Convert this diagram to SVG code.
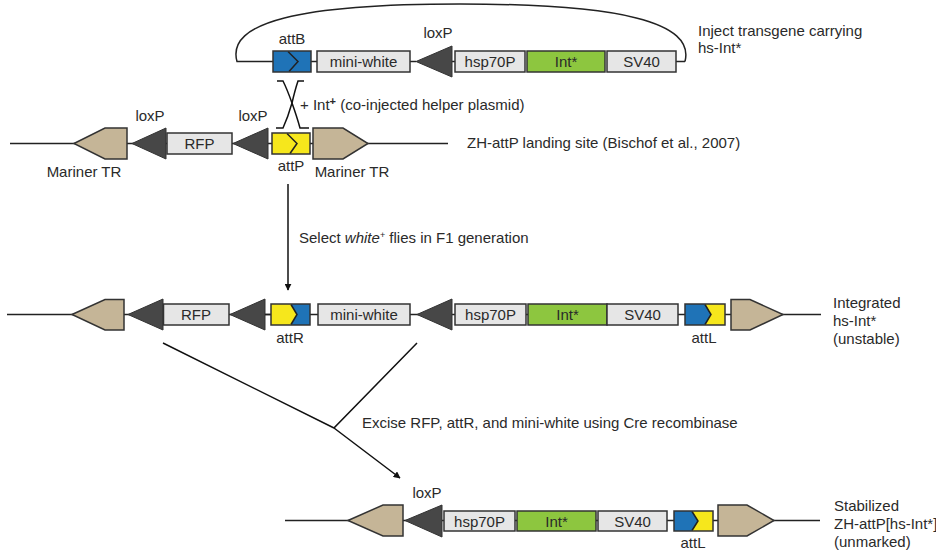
<svg xmlns="http://www.w3.org/2000/svg" width="936" height="554" viewBox="0 0 936 554">
<defs>
<style>
text{font-family:"Liberation Sans",Arial,sans-serif;font-size:15px;fill:#2a2a2a}
.c{text-anchor:middle}
.box{fill:#e6e6e6;stroke:#333;stroke-width:1.5}
.int{fill:#8dc63f;stroke:#333;stroke-width:1.5}
.lox{fill:#474747;stroke:#333;stroke-width:1}
.tr{fill:#c5b597;stroke:#333;stroke-width:1.5}
.blue{fill:#1f73b7}
.yel{fill:#f6e71c}
.frame{fill:none;stroke:#333;stroke-width:1.5}
.chev{fill:none;stroke:#222;stroke-width:1.5}
.dna{fill:none;stroke:#222;stroke-width:1.5}
.arr{fill:none;stroke:#111;stroke-width:1.5}
</style>
<marker id="ah" viewBox="0 0 10 10" refX="9" refY="5" markerWidth="7" markerHeight="7" orient="auto" markerUnits="userSpaceOnUse">
<path d="M0,0 L10,5 L0,10 Z" fill="#111"/>
</marker>
</defs>
<rect width="936" height="554" fill="#fff"/>

<g id="connectors">
<path class="dna" d="M685,61.5 C695,22 620,4 460,4 C300,4 226,22 237,61.5 H273"/>
<line class="dna" x1="311" y1="61.5" x2="317" y2="61.5"/>
<line class="dna" x1="410" y1="61.5" x2="416" y2="61.5"/>
<line class="dna" x1="452" y1="61.5" x2="455" y2="61.5"/>
<line class="dna" x1="676" y1="61.5" x2="685" y2="61.5"/>
<path class="arr" d="M277,81 H283 Q287,89 292,103 Q297,117 300,128 H309"/>
<path class="arr" d="M304,81 H298 Q295,90 292,103 Q288,117 283,128 H276"/>
<line class="dna" x1="10" y1="143.5" x2="448" y2="143.5"/>
<line class="arr" x1="288" y1="184" x2="288" y2="290" marker-end="url(#ah)"/>
<line class="dna" x1="7" y1="314.5" x2="821" y2="314.5"/>
<path class="arr" d="M163,343 L334,428 M417,343 L334,428 L400,478" marker-end="url(#ah)"/>
<line class="dna" x1="285" y1="520.5" x2="820" y2="520.5"/>
</g>

<g id="plasmid">
<g id="attB">
<rect class="blue" x="273" y="51" width="38" height="21"/>
<polyline class="chev" points="288,51.5 298,61.5 289,71.5"/>
<rect class="frame" x="273" y="51" width="38" height="21"/>
<text class="c" x="292" y="44">attB</text>
</g>
<g id="mini-white-1"><rect class="box" x="317" y="51" width="93" height="21"/><text class="c" x="363.5" y="67">mini-white</text></g>
<g id="loxP-1"><polygon class="lox" points="416,61.5 452,46 452,77"/><text class="c" x="438" y="38">loxP</text></g>
<g id="hsp70P-1"><rect class="box" x="455" y="51" width="70" height="21"/><text class="c" x="490" y="67">hsp70P</text></g>
<g id="Int-1"><rect class="int" x="527" y="51" width="78" height="21"/><text class="c" x="566" y="67">Int*</text></g>
<g id="SV40-1"><rect class="box" x="607" y="51" width="69" height="21"/><text class="c" x="641.5" y="67">SV40</text></g>
<g id="inject-label"><text x="698" y="36">Inject transgene carrying</text><text x="698" y="53">hs-Int*</text></g>
</g>

<g id="helper-label"><text x="300" y="110">+ Int<tspan font-size="11" font-weight="bold" dy="-5">+</tspan><tspan dy="5"> (co-injected helper plasmid)</tspan></text></g>

<g id="landing-site">
<g id="TR-2L"><polygon class="tr" points="74,143.5 105,128 127,128 127,159 105,159"/><text class="c" x="84" y="177">Mariner TR</text></g>
<g id="loxP-2a"><polygon class="lox" points="132,143.5 166,128 166,159"/><text class="c" x="150" y="121">loxP</text></g>
<g id="RFP-2"><rect class="box" x="167" y="133" width="65" height="21"/><text class="c" x="199.5" y="149">RFP</text></g>
<g id="loxP-2b"><polygon class="lox" points="233,143.5 268,128 268,159"/><text class="c" x="253" y="121">loxP</text></g>
<g id="attP">
<rect class="yel" x="272" y="133" width="38" height="21"/>
<polyline class="chev" points="287,133.5 297,143.5 290,153.5"/>
<rect class="frame" x="272" y="133" width="38" height="21"/>
<text class="c" x="291" y="171">attP</text>
</g>
<g id="TR-2R"><polygon class="tr" points="313,128 343,128 368,143.5 343,159 313,159"/><text class="c" x="352" y="177">Mariner TR</text></g>
<g id="landing-label"><text x="467" y="148">ZH-attP landing site (Bischof et al., 2007)</text></g>
</g>

<g id="select-label"><text x="299" y="243">Select <tspan font-style="italic">white</tspan><tspan font-size="9" dy="-5">+</tspan><tspan dy="5"> flies in F1 generation</tspan></text></g>

<g id="integrated">
<g id="TR-3L"><polygon class="tr" points="72,314.5 105,299.5 124,299.5 124,330 105,330"/></g>
<g id="loxP-3a"><polygon class="lox" points="128,314.5 163,299 163,330"/></g>
<g id="RFP-3"><rect class="box" x="163.5" y="304" width="65.5" height="21"/><text class="c" x="196" y="320">RFP</text></g>
<g id="loxP-3b"><polygon class="lox" points="230,314.5 265,299 265,330"/></g>
<line class="dna" x1="265" y1="314.5" x2="271" y2="314.5"/>
<g id="attR">
<rect class="blue" x="271" y="304" width="39" height="21"/>
<polygon class="yel" points="271,304 291,304 297,314.5 291,325 271,325"/>
<polyline class="chev" points="291,304.5 297,314.5 291,324.5"/>
<rect class="frame" x="271" y="304" width="39" height="21"/>
<text class="c" x="290" y="343">attR</text>
</g>
<g id="mini-white-3"><rect class="box" x="318" y="304" width="92" height="21"/><text class="c" x="364" y="320">mini-white</text></g>
<g id="loxP-3c"><polygon class="lox" points="417,314.5 452,299 452,330"/></g>
<g id="hsp70P-3"><rect class="box" x="455" y="304" width="71" height="21"/><text class="c" x="490.5" y="320">hsp70P</text></g>
<g id="Int-3"><rect class="int" x="528" y="304" width="79" height="21"/><text class="c" x="567.5" y="320">Int*</text></g>
<g id="SV40-3"><rect class="box" x="607" y="304" width="71" height="21"/><text class="c" x="642.5" y="320">SV40</text></g>
<g id="attL-3">
<rect class="yel" x="685" y="304" width="40" height="21"/>
<polygon class="blue" points="685,304 705,304 711,314.5 705,325 685,325"/>
<polyline class="chev" points="705,304.5 711,314.5 705,324.5"/>
<rect class="frame" x="685" y="304" width="40" height="21"/>
<text class="c" x="704" y="343">attL</text>
</g>
<g id="TR-3R"><polygon class="tr" points="731,299.5 750,299.5 783,314.5 750,330 731,330"/></g>
<g id="integrated-label"><text x="833" y="308">Integrated</text><text x="833" y="326">hs-Int*</text><text x="833" y="344">(unstable)</text></g>
</g>

<g id="excise-label"><text x="362" y="428">Excise RFP, attR, and mini-white using Cre recombinase</text></g>

<g id="stabilized">
<g id="TR-4L"><polygon class="tr" points="348,520.5 383,505 403,505 403,536 383,536"/></g>
<g id="loxP-4"><polygon class="lox" points="405,520.5 442,505 442,537"/><text class="c" x="427" y="498">loxP</text></g>
<g id="hsp70P-4"><rect class="box" x="444" y="511" width="71" height="20"/><text class="c" x="479.5" y="526.5">hsp70P</text></g>
<g id="Int-4"><rect class="int" x="517" y="511" width="79" height="20"/><text class="c" x="556.5" y="526.5">Int*</text></g>
<g id="SV40-4"><rect class="box" x="598" y="511" width="69" height="20"/><text class="c" x="632.5" y="526.5">SV40</text></g>
<g id="attL-4">
<rect class="yel" x="674" y="511" width="39" height="20"/>
<polygon class="blue" points="674,511 692,511 698,521 692,531 674,531"/>
<polyline class="chev" points="692,511.5 698,521 692,530.5"/>
<rect class="frame" x="674" y="511" width="39" height="20"/>
<text class="c" x="693" y="548">attL</text>
</g>
<g id="TR-4R"><polygon class="tr" points="718,505 747,505 774,520.5 747,536 718,536"/></g>
<g id="stabilized-label"><text x="834" y="511">Stabilized</text><text x="834" y="529">ZH-attP[hs-Int*]</text><text x="834" y="547">(unmarked)</text></g>
</g>
</svg>
